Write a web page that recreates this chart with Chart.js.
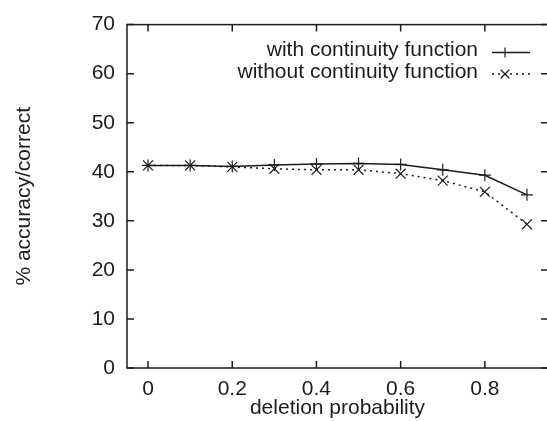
<!DOCTYPE html>
<html>
<head>
<meta charset="utf-8">
<script src="https://cdn.jsdelivr.net/npm/chart.js@4/dist/chart.umd.min.js"></script>
<style>
html,body{margin:0;padding:0;background:#fff;overflow:hidden;width:547px;height:421px;}
canvas{display:block;}
</style>
</head>
<body>
<canvas id="c" width="560" height="421" style="width:560px;height:421px"></canvas>
<script>
const deletionProb = [0, 0.1, 0.2, 0.3, 0.4, 0.5, 0.6, 0.7, 0.8, 0.9];
const withContinuity = [41.3, 41.3, 41.1, 41.4, 41.6, 41.7, 41.5, 40.4, 39.3, 35.3];
const withoutContinuity = [41.3, 41.3, 41.0, 40.6, 40.4, 40.4, 39.6, 38.2, 35.9, 29.3];
const xTickValues = [0, 0.2, 0.4, 0.6, 0.8];
const yTickValues = [0, 10, 20, 30, 40, 50, 60, 70];
const seriesLabels = ['with continuity function', 'without continuity function'];

const INK = '#1c1c1c';
const FONT = {family: '"Liberation Sans", Arial, Helvetica, sans-serif', size: 21};

const frameAndTicks = {
  id: 'frameAndTicks',
  afterDatasetsDraw(chart) {
    const {ctx, chartArea: a, scales: {x, y}} = chart;
    ctx.save();
    ctx.strokeStyle = INK;
    ctx.lineWidth = 1.5;
    ctx.strokeRect(a.left, a.top, a.right - a.left, a.bottom - a.top);
    const L = 7;
    ctx.beginPath();
    yTickValues.forEach(v => {
      const py = y.getPixelForValue(v);
      ctx.moveTo(a.left, py); ctx.lineTo(a.left + L, py);
      ctx.moveTo(a.right, py); ctx.lineTo(a.right - L, py);
    });
    xTickValues.forEach(v => {
      const px = x.getPixelForValue(v);
      ctx.moveTo(px, a.bottom); ctx.lineTo(px, a.bottom - L);
      ctx.moveTo(px, a.top); ctx.lineTo(px, a.top + L);
    });
    ctx.stroke();

    // legend (gnuplot style: text right-aligned, then sample)
    ctx.font = FONT.size + 'px ' + FONT.family;
    ctx.fillStyle = INK;
    ctx.textAlign = 'right';
    ctx.textBaseline = 'alphabetic';
    const rows = [{base: 56, line: 52.5}, {base: 78, line: 74}];
    chart.data.datasets.forEach((ds, i) => {
      const r0 = rows[i];
      ctx.fillText(ds.label, 478, r0.base);
      const ty = r0.line;
      ctx.save();
      ctx.lineWidth = ds.borderWidth;
      ctx.setLineDash(ds.borderDash || []);
      ctx.beginPath();
      ctx.moveTo(492, ty); ctx.lineTo(530, ty);
      ctx.stroke();
      ctx.restore();
      const r = ds.pointRadius - 1;
      const mx = 505;
      ctx.beginPath();
      ctx.lineWidth = 1.2;
      if (ds.pointStyle === 'cross') {
        ctx.moveTo(mx - r, ty); ctx.lineTo(mx + r, ty);
        ctx.moveTo(mx, ty - r); ctx.lineTo(mx, ty + r);
      } else {
        const d = r * 0.7071;
        ctx.moveTo(mx - d, ty - d); ctx.lineTo(mx + d, ty + d);
        ctx.moveTo(mx - d, ty + d); ctx.lineTo(mx + d, ty - d);
      }
      ctx.stroke();
    });
    ctx.restore();
  }
};

new Chart(document.getElementById('c'), {
  type: 'line',
  data: {
    datasets: [
      {
        label: seriesLabels[0],
        data: deletionProb.map((d, i) => ({x: d, y: withContinuity[i]})),
        borderColor: INK, backgroundColor: INK,
        borderWidth: 1.5,
        pointStyle: 'cross', pointRadius: 6, pointBorderWidth: 1.2,
        pointBorderColor: INK,
        tension: 0, fill: false
      },
      {
        label: seriesLabels[1],
        data: deletionProb.map((d, i) => ({x: d, y: withoutContinuity[i]})),
        borderColor: INK, backgroundColor: INK,
        borderWidth: 1.5, borderDash: [2, 4],
        pointStyle: 'crossRot', pointRadius: 7, pointBorderWidth: 1.2,
        pointBorderColor: INK,
        tension: 0, fill: false
      }
    ]
  },
  options: {
    responsive: false,
    animation: false,
    layout: {padding: {left: 12, top: 22, right: 12, bottom: 0}},
    plugins: {legend: {display: false}, tooltip: {enabled: false}},
    scales: {
      x: {
        type: 'linear', min: -0.05, max: 0.95,
        afterBuildTicks: s => { s.ticks = xTickValues.map(v => ({value: v})); },
        afterFit: s => { s.height = 53; },
        grid: {display: false, drawTicks: false},
        border: {display: false},
        ticks: {color: INK, font: FONT, padding: 9, maxRotation: 0,
          callback: v => String(+v.toFixed(1))},
        title: {display: true, text: 'deletion probability', color: INK, font: FONT, padding: 0}
      },
      y: {
        type: 'linear', min: 0, max: 70,
        afterBuildTicks: s => { s.ticks = yTickValues.map(v => ({value: v})); },
        afterFit: s => { s.width = 115; },
        grid: {display: false, drawTicks: false},
        border: {display: false},
        ticks: {color: INK, font: FONT, padding: 12},
        title: {display: true, text: '% accuracy/correct', color: INK, font: FONT, padding: 0}
      }
    }
  },
  plugins: [frameAndTicks]
});
</script>
</body>
</html>
